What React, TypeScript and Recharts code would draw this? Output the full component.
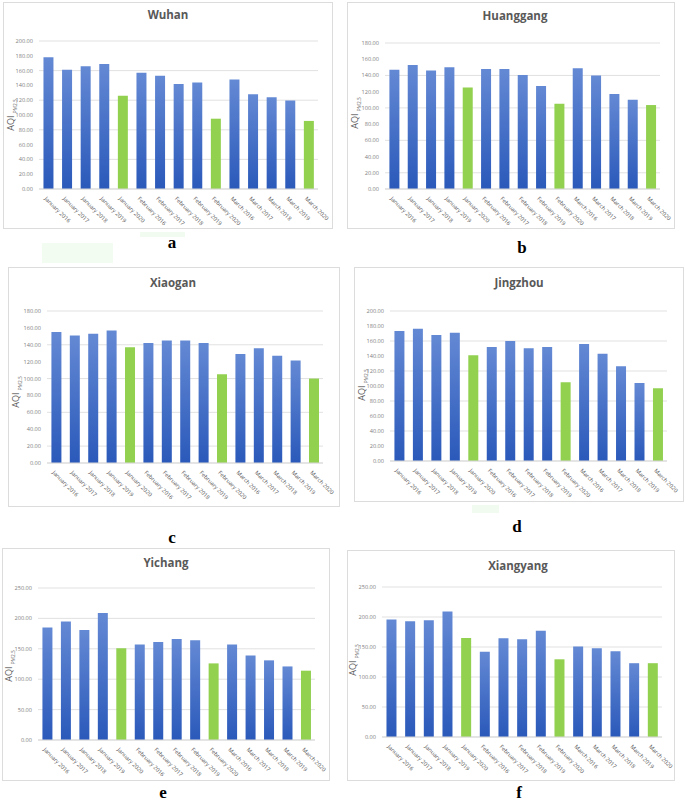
import React from 'react';
import { BarChart, Bar, XAxis, YAxis, CartesianGrid, Cell } from 'recharts';

// categories shared by all six panels
const months = [
  'January 2016', 'January 2017', 'January 2018', 'January 2019', 'January 2020',
  'February 2016', 'February 2017', 'February 2018', 'February 2019', 'February 2020',
  'March 2016', 'March 2017', 'March 2018', 'March 2019', 'March 2020',
];

// AQI PM2.5 per city
const wuhan = [178, 161, 166, 169, 126, 157, 153, 142, 144, 95, 148, 128, 124, 119.5, 92];
const huanggang = [147, 153, 146, 150, 125, 148, 148, 140.5, 127, 105, 149, 140, 117, 110, 103.5];
const xiaogan = [155, 151, 153, 157, 137, 142, 145, 145, 142, 105, 129, 136, 127, 121.5, 100];
const jingzhou = [173.5, 176.5, 168, 171, 141, 152, 160, 150.5, 152, 105, 156, 143, 126.5, 104, 97];
const yichang = [185, 195, 181, 209, 151, 157, 161, 166, 164, 126, 157, 139, 131, 121, 114];
const xiangyang = [196, 193, 194.5, 209, 165, 142, 164.5, 163, 177, 129.5, 151, 148, 143, 123, 123];

const ticks200 = [0, 20, 40, 60, 80, 100, 120, 140, 160, 180, 200];
const ticks180 = [0, 20, 40, 60, 80, 100, 120, 140, 160, 180];
const ticks250 = [0, 50, 100, 150, 200, 250];

const BLUE_TOP = '#6489d4';
const BLUE_BOTTOM = '#2a59ba';
const GREEN = '#92d050';
const GRID = '#d9d9d9';

const MonthTick = (props: any) => {
  const { x, y, payload } = props;
  return (
    <text
      x={x - 2}
      y={y}
      dy={3}
      transform={`rotate(45, ${x - 2}, ${y})`}
      fontSize={5.6}
      fill="#595959"
      fontFamily="'Open Sans', sans-serif"
      textAnchor="start"
    >
      {payload.value}
    </text>
  );
};

type Box = { x: number; y: number; w: number; h: number };
type Plot = { l: number; t: number; r: number; b: number };

interface PanelProps {
  id: string;
  title: string;
  values: number[];
  ticks: number[];
  letter: string;
  box: Box;
  plot: Plot;
  titlePos: [number, number];
  labelPos: [number, number];
  letterPos: [number, number];
}

const Panel: React.FC<PanelProps> = ({ id, title, values, ticks, letter, box, plot, titlePos, labelPos, letterPos }) => {
  const data = months.map((m, i) => ({ month: m, value: values[i] }));
  const max = ticks[ticks.length - 1];
  return (
    <>
      <div
        style={{
          position: 'absolute', left: box.x, top: box.y, width: box.w, height: box.h,
          border: '1px solid #dcdcdc', boxSizing: 'border-box', background: '#fff',
        }}
      />
      <div style={{ position: 'absolute', left: box.x, top: box.y }}>
        <BarChart
          width={box.w}
          height={box.h}
          data={data}
          barCategoryGap="24%"
          margin={{ top: plot.t - box.y, right: box.x + box.w - plot.r, left: 0, bottom: 0 }}
        >
          <defs>
            <linearGradient id={`blue-${id}`} x1="0" y1="0" x2="0" y2="1">
              <stop offset="0%" stopColor={BLUE_TOP} />
              <stop offset="100%" stopColor={BLUE_BOTTOM} />
            </linearGradient>
          </defs>
          <CartesianGrid vertical={false} stroke={GRID} strokeWidth={0.8} />
          <XAxis
            dataKey="month"
            interval={0}
            height={box.y + box.h - plot.b}
            axisLine={{ stroke: GRID }}
            tickLine={false}
            tick={<MonthTick />}
          />
          <YAxis
            width={plot.l - box.x}
            domain={[0, max]}
            ticks={ticks}
            axisLine={false}
            tickLine={false}
            tickSize={4}
            tickMargin={2}
            tickFormatter={(v: number) => v.toFixed(2)}
            tick={{ fontSize: 5.6, fill: '#7f7f7f', fontFamily: "'Open Sans', sans-serif" }}
          />
          <Bar dataKey="value" isAnimationActive={false}>
            {data.map((d) => (
              <Cell key={d.month} fill={d.month.endsWith('2020') ? GREEN : `url(#blue-${id})`} />
            ))}
          </Bar>
        </BarChart>
      </div>
      <div
        style={{
          position: 'absolute', left: titlePos[0], top: titlePos[1], transform: 'translate(-50%, -50%)',
          fontFamily: "'Open Sans', sans-serif", fontWeight: 700, fontSize: 11.5, color: '#595959', whiteSpace: 'nowrap',
        }}
      >
        {title}
      </div>
      <div
        style={{
          position: 'absolute', left: labelPos[0], top: labelPos[1], transform: 'translate(-50%, -50%) rotate(-90deg)',
          fontFamily: "'Open Sans', sans-serif", fontSize: 9, color: '#595959', whiteSpace: 'nowrap', lineHeight: 1,
        }}
      >
        AQI <span style={{ fontSize: 4.8, verticalAlign: 'sub' }}>PM2.5</span>
      </div>
      <div
        style={{
          position: 'absolute', left: letterPos[0], top: letterPos[1], transform: 'translate(-50%, -50%)',
          fontFamily: "'Liberation Serif', serif", fontWeight: 700, fontSize: 17, color: '#000', lineHeight: 1,
        }}
      >
        {letter}
      </div>
    </>
  );
};

export default function App() {
  return (
    <div style={{ position: 'absolute', left: 0, top: 0, width: 684, height: 802, background: '#fff', overflow: 'hidden' }}>
      {/* faint green smudges in the source scan */}
      <div style={{ position: 'absolute', left: 42, top: 243, width: 71, height: 20, background: '#f3fcf1' }} />
      <div style={{ position: 'absolute', left: 140, top: 232, width: 45, height: 5, background: '#f1fbef' }} />
      <div style={{ position: 'absolute', left: 472, top: 505, width: 27, height: 8, background: '#f1fbef' }} />

      <Panel id="a" title="Wuhan" values={wuhan} ticks={ticks200} letter="a"
        box={{ x: 3, y: 2, w: 330, h: 227 }} plot={{ l: 39, t: 41, r: 318, b: 189 }}
        titlePos={[168, 14]} labelPos={[12, 115]} letterPos={[172, 242]} />
      <Panel id="b" title="Huanggang" values={huanggang} ticks={ticks180} letter="b"
        box={{ x: 347, y: 2, w: 328, h: 227 }} plot={{ l: 385, t: 43, r: 660, b: 189 }}
        titlePos={[515, 15]} labelPos={[356, 113]} letterPos={[522, 247]} />
      <Panel id="c" title="Xiaogan" values={xiaogan} ticks={ticks180} letter="c"
        box={{ x: 8, y: 267, w: 332, h: 240 }} plot={{ l: 47, t: 311, r: 323, b: 463 }}
        titlePos={[173, 282]} labelPos={[17, 392]} letterPos={[172, 537]} />
      <Panel id="d" title="Jingzhou" values={jingzhou} ticks={ticks200} letter="d"
        box={{ x: 354, y: 267, w: 330, h: 235 }} plot={{ l: 390, t: 311, r: 667, b: 461 }}
        titlePos={[519, 282]} labelPos={[363, 385]} letterPos={[517, 526]} />
      <Panel id="e" title="Yichang" values={yichang} ticks={ticks250} letter="e"
        box={{ x: 2, y: 548, w: 328, h: 233 }} plot={{ l: 38, t: 588, r: 315, b: 740 }}
        titlePos={[166, 562]} labelPos={[10, 666]} letterPos={[163, 792]} />
      <Panel id="f" title="Xiangyang" values={xiangyang} ticks={ticks250} letter="f"
        box={{ x: 347, y: 550, w: 328, h: 231 }} plot={{ l: 382, t: 587, r: 662, b: 737 }}
        titlePos={[518, 565]} labelPos={[354, 660]} letterPos={[519, 792]} />
    </div>
  );
}
